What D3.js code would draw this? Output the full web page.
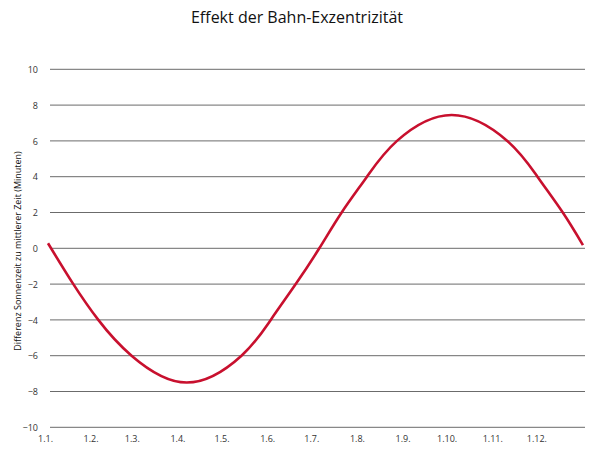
<!DOCTYPE html>
<html>
<head>
<meta charset="utf-8">
<script src="https://cdn.jsdelivr.net/npm/d3@7"></script>
<style>
  body { margin: 0; background: #fff; }
  text { font-family: "Open Sans", sans-serif; }
</style>
</head>
<body>
<svg class="svg-chart"></svg>
<script>
// day of year (0 = 1 Jan) and minutes
var days = [0, 17.2, 34.2, 56.8, 94.3, 131.5, 151.4, 168.4, 184.4, 199.6, 216.8, 237.2, 274.4, 312.2, 332.7, 349.9, 363.6];
var minutes = [0.28, -2, -4, -6, -7.5, -6, -4, -2, 0, 2, 4, 6, 7.45, 6, 4, 2, 0.18];

var monthStarts = [0, 31, 59, 90, 120, 151, 181, 212, 243, 273, 304, 334];
var monthLabels = ["1.1.", "1.2.", "1.3.", "1.4.", "1.5.", "1.6.", "1.7.", "1.8.", "1.9.", "1.10.", "1.11.", "1.12."];
var yTicks = [-10, -8, -6, -4, -2, 0, 2, 4, 6, 8, 10];

var width = 600, height = 459;

var svg = d3.select(".svg-chart")
    .attr("width", width)
    .attr("height", height);

var x = d3.scaleLinear()
    .domain([0, 365])
    .range([48, 585]);

var y = d3.scaleLinear()
    .domain([-10, 10])
    .range([427.3, 69.3]);

// gridlines
svg.append("g").selectAll("line")
    .data(yTicks)
    .enter().append("line")
    .attr("x1", 50)
    .attr("x2", 585)
    .attr("y1", function(d) { return y(d); })
    .attr("y2", function(d) { return y(d); })
    .style("stroke", "#6b6b6b")
    .style("stroke-width", 1);

// y tick labels
var yAxis = d3.axisLeft(y)
    .tickValues(yTicks)
    .tickSize(0)
    .tickPadding(0);
var yg = svg.append("g")
    .attr("transform", "translate(38,0)")
    .call(yAxis);
yg.select(".domain").remove();
yg.selectAll("text")
    .style("font-size", "9px")
    .style("fill", "#333")
    .attr("dy", "0.35em");

// x tick labels
var xAxis = d3.axisBottom(x)
    .tickValues(monthStarts)
    .tickFormat(function(d, i) { return monthLabels[i]; })
    .tickSize(0)
    .tickPadding(0);
var xg = svg.append("g")
    .attr("transform", "translate(0,436)")
    .call(xAxis);
xg.select(".domain").remove();
xg.selectAll("text")
    .style("font-size", "9px")
    .style("fill", "#333")
    .attr("dx", -3);

// curve
var line = d3.line()
    .x(function(d, i) { return x(days[i]); })
    .y(function(d) { return y(d); })
    .curve(d3.curveNatural);

svg.append("path")
    .datum(minutes)
    .attr("d", line)
    .style("fill", "none")
    .style("stroke", "#c8102e")
    .style("stroke-width", 2.6);

// title
svg.append("text")
    .attr("x", 297)
    .attr("y", 23)
    .attr("text-anchor", "middle")
    .style("font-size", "16px")
    .style("fill", "#111")
    .text("Effekt der Bahn-Exzentrizität");

// y axis label
svg.append("text")
    .attr("transform", "translate(21,251) rotate(-90)")
    .attr("text-anchor", "middle")
    .style("font-size", "9px")
    .style("fill", "#111")
    .text("Differenz Sonnenzeit zu mittlerer Zeit (Minuten)");
</script>
</body>
</html>
